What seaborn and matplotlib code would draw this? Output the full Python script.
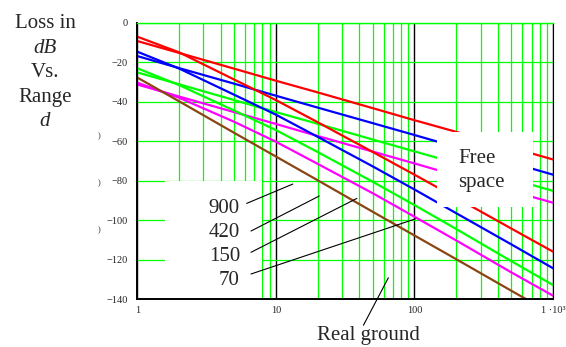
import pandas as pd
import matplotlib
matplotlib.use("Agg")
import matplotlib.pyplot as plt
import seaborn as sns
from matplotlib.patches import Rectangle

# Distancia (range d) donde se leyeron las curvas
rango = [1, 2, 5, 10, 20, 50, 100, 200, 500, 1000]

# Pérdida en espacio libre (free space) por frecuencia
fs_70 = [-9.3, -15.3, -23.3, -29.4, -35.3, -43.3, -49.4, -55.3, -63.3, -69.3]
fs_150 = [-16.9, -23.0, -30.9, -37.0, -43.0, -50.9, -56.9, -63.0, -70.9, -77.0]
fs_420 = [-25.2, -31.2, -39.2, -45.3, -51.2, -59.2, -65.2, -71.2, -79.2, -85.2]
fs_900 = [-31.3, -37.4, -45.3, -51.3, -57.4, -65.3, -71.3, -77.4, -85.3, -91.2]

# Pérdida sobre tierra real (real ground) por frecuencia
rg_70 = [-7.1, -15.0, -28.8, -39.2, -50.4, -65.5, -77.0, -88.7, -104.3, -116.0]
rg_150 = [-14.7, -23.2, -36.5, -46.6, -57.8, -72.8, -84.5, -96.5, -112.3, -124.4]
rg_420 = [-23.1, -31.6, -44.5, -54.4, -65.5, -80.6, -92.4, -104.5, -120.8, -132.9]
rg_900 = [-30.4, -38.0, -50.2, -60.3, -71.5, -86.4, -98.3, -110.3, -126.5, -138.3]

# Curva café
suelo = [-27.8, -39.8, -55.8, -67.8, -79.8, -95.8, -107.8, -119.8, -135.8, -147.8]

frecuencias = ["900", "420", "150", "70"]
y_ticks = [0, -20, -40, -60, -80, -100, -120, -140]
y_labels = ["0", "\u221220", "\u221240", "\u221260", "\u221280", "\u2212100", "\u2212120", "\u2212140"]
x_ticks = [1, 10, 100, 1000]
x_labels = ["1", "10", "100", "1 \u00b710\u00b3"]

curvas = {
    "fs_70": fs_70, "fs_150": fs_150, "fs_420": fs_420, "fs_900": fs_900,
    "rg_70": rg_70, "rg_150": rg_150, "rg_420": rg_420, "rg_900": rg_900,
    "suelo": suelo,
}
colores = {
    "fs_70": "#ff0000", "rg_70": "#ff0000",
    "fs_150": "#0000ff", "rg_150": "#0000ff",
    "fs_420": "#00ff00", "rg_420": "#00ff00",
    "fs_900": "#ff00ff", "rg_900": "#ff00ff",
    "suelo": "#8b4513",
}

filas = []
for nombre, valores in curvas.items():
    for d, loss in zip(rango, valores):
        filas.append({"d": d, "loss": loss, "curva": nombre})
df = pd.DataFrame(filas)

sns.set_style("white")
plt.rcParams["font.family"] = ["Liberation Serif", "DejaVu Serif"]

fig = plt.figure(figsize=(5.66, 3.47), dpi=100)
ax = fig.add_axes([0.2426, 0.1383, 0.7344, 0.7963])

sns.lineplot(data=df, x="d", y="loss", hue="curva", palette=colores,
             estimator=None, sort=False, legend=False, linewidth=1.6, ax=ax)

ax.set_xscale("log")
ax.set_xlim(1, 1000)
ax.set_ylim(-140, 0)
ax.set_axisbelow(True)

ax.set_yticks(y_ticks)
ax.set_yticklabels(y_labels, fontsize=7.5)
ax.set_xticks(x_ticks)
ax.set_xticklabels(x_labels, fontsize=7.5)
ax.tick_params(axis="both", which="both", length=0)
ax.tick_params(axis="y", pad=7)
ax.tick_params(axis="x", pad=5)
ax.set_xlabel("")
ax.set_ylabel("")

# Cuadrícula: verde en general, negra en las décadas
ax.grid(True, which="minor", axis="x", color="#00ff00", linewidth=0.9)
ax.grid(True, which="major", axis="x", color="black", linewidth=1.0)
ax.grid(True, which="major", axis="y", color="#00ff00", linewidth=0.9)

for lado in ["left", "bottom"]:
    ax.spines[lado].set_color("black")
    ax.spines[lado].set_linewidth(1.4)
ax.spines["right"].set_color("black")
ax.spines["right"].set_linewidth(0.8)
ax.spines["top"].set_color("#00ff00")
ax.spines["top"].set_linewidth(1.0)

# Recuadros blancos de las etiquetas
ax.add_patch(Rectangle((0.0666, 0.0), 0.2334, 0.426, transform=ax.transAxes,
                       facecolor="white", edgecolor="none", zorder=1))
ax.add_patch(Rectangle((0.720, 0.334), 0.232, 0.2715, transform=ax.transAxes,
                       facecolor="white", edgecolor="none", zorder=3))

ax.text(0.772, 0.491, "Free", transform=ax.transAxes, fontsize=15, zorder=4)
ax.text(0.772, 0.406, "space", transform=ax.transAxes, fontsize=15, zorder=4)

# Etiquetas de frecuencia con sus flechas
pos_texto = [0.312, 0.224, 0.136, 0.0496]
inicio = [(0.263, 0.346), (0.2735, 0.246), (0.2735, 0.169), (0.2735, 0.0905)]
fin = [(0.374, 0.416), (0.438, 0.373), (0.528, 0.364), (0.669, 0.290)]
for f, yt, p0, p1 in zip(frecuencias, pos_texto, inicio, fin):
    ax.text(0.247, yt, f, transform=ax.transAxes, fontsize=15, ha="right", zorder=4)
    ax.plot([p0[0], p1[0]], [p0[1], p1[1]], transform=ax.transAxes,
            color="black", linewidth=0.8, zorder=4)

ax.plot([0.544, 0.604], [-0.095, 0.077], transform=ax.transAxes,
        color="black", linewidth=0.8, clip_on=False, zorder=4)
ax.text(0.556, -0.150, "Real ground", transform=ax.transAxes, fontsize=15,
        ha="center", zorder=4)

# Título vertical a la izquierda
fig.text(0.0795, 0.918, "Loss in", fontsize=15, ha="center")
fig.text(0.0795, 0.848, "dB", fontsize=15, ha="center", style="italic")
fig.text(0.0795, 0.777, "Vs.", fontsize=15, ha="center")
fig.text(0.0795, 0.707, "Range", fontsize=15, ha="center")
fig.text(0.0795, 0.637, "d", fontsize=15, ha="center", style="italic")

# Restos de la etiqueta del eje y
for yy in [0.608, 0.473, 0.337]:
    fig.text(0.175, yy, ")", fontsize=6, ha="center", va="center")

fig.savefig("out.png", dpi=100)
